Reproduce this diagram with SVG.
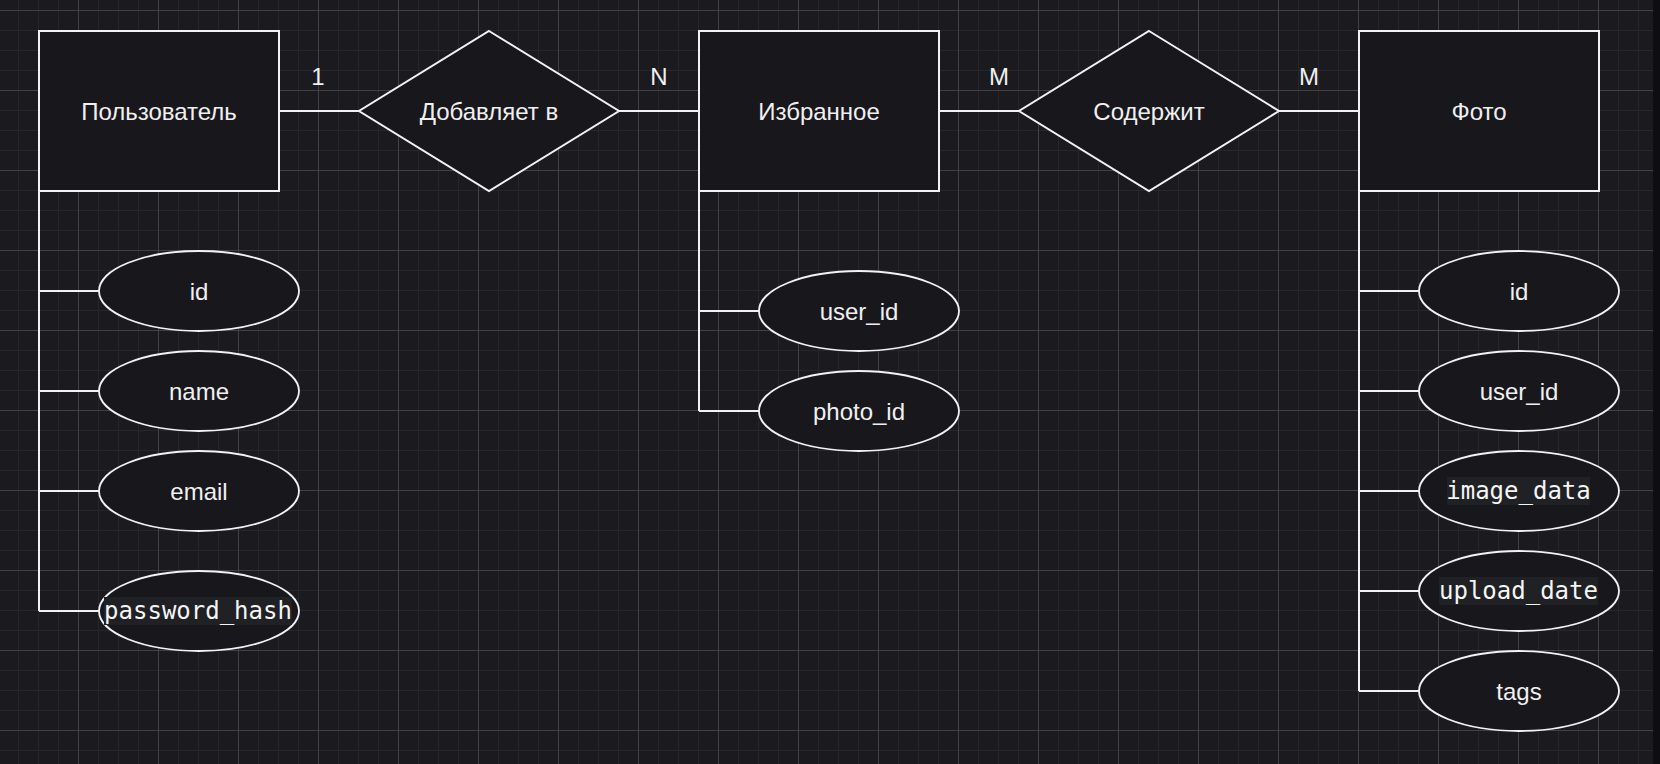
<svg xmlns="http://www.w3.org/2000/svg" width="1660" height="764" viewBox="0 0 1660 764">
  <style>
    .shape { fill: #18171c; stroke: #f2f2f2; stroke-width: 2; }
    .attr { fill: #18171c; stroke: #f2f2f2; stroke-width: 1.8; }
    .link { fill: none; stroke: #f2f2f2; stroke-width: 2; }
    .label { font-family: "Liberation Sans", Arial, Helvetica, sans-serif; font-size: 24px; fill: #f0f0f0; text-anchor: middle; }
    .code { font-family: "DejaVu Sans Mono", Menlo, monospace; font-size: 24px; fill: #f5f5f5; text-anchor: middle; }
    .codebg { fill: #1f2124; }
  </style>
  <defs>
    <pattern id="gridMinor" width="20" height="20" patternUnits="userSpaceOnUse" patternTransform="translate(18 10)">
      <path d="M0.5 0V20M0 0.5H20" fill="none" stroke="#27262b" stroke-width="1"/>
    </pattern>
    <pattern id="gridMajor" width="80" height="80" patternUnits="userSpaceOnUse" patternTransform="translate(78 10)">
      <path d="M0.5 0V80M0 0.5H80" fill="none" stroke="#414045" stroke-width="1"/>
    </pattern>
  </defs>

  <!-- canvas with grid -->
  <rect x="0" y="0" width="1660" height="764" fill="#1b1a1f"/>
  <rect x="0" y="0" width="1660" height="764" fill="url(#gridMinor)"/>
  <rect x="0" y="0" width="1660" height="764" fill="url(#gridMajor)"/>
  <rect x="1653" y="0" width="7" height="764" fill="#0e0e10"/>

  <!-- connectors -->
  <g id="connectors">
    <path class="link" d="M279 111H359M619 111H699M939 111H1019M1279 111H1359"/>
    <path class="link" d="M39 191V611M39 291H99M39 391H99M39 491H99M39 611H99"/>
    <path class="link" d="M699 191V411M699 311H759M699 411H759"/>
    <path class="link" d="M1359 191V691M1359 291H1419M1359 391H1419M1359 491H1419M1359 591H1419M1359 691H1419"/>
    <text class="label" x="318" y="85">1</text>
    <text class="label" x="659" y="85">N</text>
    <text class="label" x="999" y="85">M</text>
    <text class="label" x="1309" y="85">M</text>
  </g>

  <!-- entities and relationships -->
  <g id="user">
    <rect class="shape" x="39" y="31" width="240" height="160"/>
    <text class="label" x="159" y="119.5">Пользователь</text>
  </g>
  <g id="adds-to">
    <polygon class="shape" points="489,31 619,111 489,191 359,111"/>
    <text class="label" x="489" y="119.5">Добавляет в</text>
  </g>
  <g id="favorites">
    <rect class="shape" x="699" y="31" width="240" height="160"/>
    <text class="label" x="819" y="119.5">Избранное</text>
  </g>
  <g id="contains">
    <polygon class="shape" points="1149,31 1279,111 1149,191 1019,111"/>
    <text class="label" x="1149" y="119.5">Содержит</text>
  </g>
  <g id="photo">
    <rect class="shape" x="1359" y="31" width="240" height="160"/>
    <text class="label" x="1479" y="119.5">Фото</text>
  </g>

  <!-- user attributes -->
  <g id="user-id">
    <ellipse class="attr" cx="199" cy="291" rx="100" ry="40"/>
    <text class="label" x="199" y="299.5">id</text>
  </g>
  <g id="user-name">
    <ellipse class="attr" cx="199" cy="391" rx="100" ry="40"/>
    <text class="label" x="199" y="399.5">name</text>
  </g>
  <g id="user-email">
    <ellipse class="attr" cx="199" cy="491" rx="100" ry="40"/>
    <text class="label" x="199" y="499.5">email</text>
  </g>
  <g id="user-password-hash">
    <ellipse class="attr" cx="199" cy="611" rx="100" ry="40"/>
    <rect class="codebg" x="104" y="597" width="188" height="28"/>
    <text class="code" x="198" y="619">password_hash</text>
  </g>

  <!-- favorites attributes -->
  <g id="fav-user-id">
    <ellipse class="attr" cx="859" cy="311" rx="100" ry="40"/>
    <text class="label" x="859" y="319.5">user_id</text>
  </g>
  <g id="fav-photo-id">
    <ellipse class="attr" cx="859" cy="411" rx="100" ry="40"/>
    <text class="label" x="859" y="419.5">photo_id</text>
  </g>

  <!-- photo attributes -->
  <g id="photo-id">
    <ellipse class="attr" cx="1519" cy="291" rx="100" ry="40"/>
    <text class="label" x="1519" y="299.5">id</text>
  </g>
  <g id="photo-user-id">
    <ellipse class="attr" cx="1519" cy="391" rx="100" ry="40"/>
    <text class="label" x="1519" y="399.5">user_id</text>
  </g>
  <g id="photo-image-data">
    <ellipse class="attr" cx="1519" cy="491" rx="100" ry="40"/>
    <rect class="codebg" x="1447" y="477" width="143" height="28"/>
    <text class="code" x="1518.5" y="499">image_data</text>
  </g>
  <g id="photo-upload-date">
    <ellipse class="attr" cx="1519" cy="591" rx="100" ry="40"/>
    <rect class="codebg" x="1439" y="577" width="159" height="28"/>
    <text class="code" x="1518.5" y="599">upload_date</text>
  </g>
  <g id="photo-tags">
    <ellipse class="attr" cx="1519" cy="691" rx="100" ry="40"/>
    <text class="label" x="1519" y="699.5">tags</text>
  </g>
</svg>
